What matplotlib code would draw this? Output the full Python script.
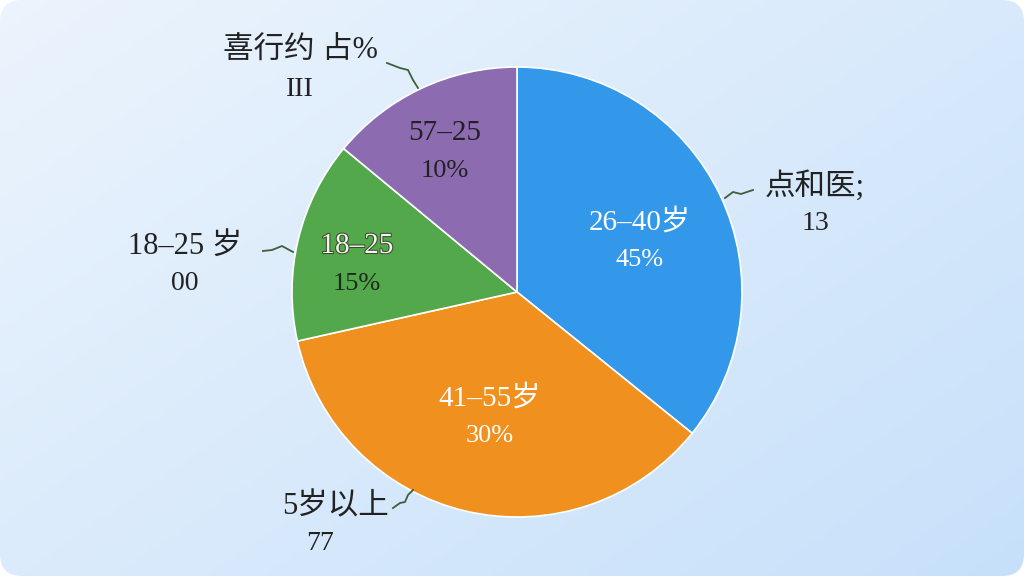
import numpy as np
import matplotlib
matplotlib.use('Agg')
import matplotlib.pyplot as plt
from matplotlib.patches import FancyBboxPatch
import matplotlib.patheffects as pe

plt.rcParams['font.family'] = ['Liberation Serif', 'Noto Sans CJK SC', 'DejaVu Sans']

#%% dati
categorie = ['26–40岁', '41–55岁', '18–25', '57–25']
quote = [35.8, 35.7, 14.5, 14.0]          # ampiezza reale degli spicchi
etichette_pct = ['45%', '30%', '15%', '10%']
colori = ['#3498ea', '#f0901f', '#52a84b', '#8d6bb0']
esterne = ['点和医;', '5岁以上', '18–25 岁', '喜行约 占%']
esterne_sub = ['13', '77', '00', 'III']

#%%
W, H = 1024, 576
fig = plt.figure(figsize=(W / 100, H / 100), dpi=100)
fig.patch.set_facecolor('white')
ax = fig.add_axes([0, 0, 1, 1])

# sfondo a gradiente con angoli arrotondati (chiaro in alto a sinistra)
xx, yy = np.meshgrid(np.linspace(0, 1, 200), np.linspace(0, 1, 120))
t = xx * 0.55 + yy * 0.45
c0 = np.array([0.925, 0.957, 0.992])
c1 = np.array([0.78, 0.88, 0.98])
grad = c0[None, None, :] * (1 - t[..., None]) + c1[None, None, :] * t[..., None]
im = ax.imshow(grad, extent=[0, W, 0, H], origin='upper', zorder=0, aspect='auto')
card = FancyBboxPatch((0, 0), W, H, boxstyle='round,pad=0,rounding_size=22',
                      transform=ax.transData, facecolor='none', edgecolor='none')
ax.add_patch(card)
im.set_clip_path(card)

cx, cy, r = 517, H - 292, 225
wedges, _ = ax.pie(quote, colors=colori, startangle=90, counterclock=False,
                   center=(cx, cy), radius=r, frame=True,
                   wedgeprops=dict(edgecolor='white', linewidth=1.2))
ax.set_xlim(0, W)
ax.set_ylim(0, H)
ax.axis('off')

def py(y):
    return H - y

# etichette interne
pos_int = [(640, 222), (490, 398), (357, 246), (445, 133)]
col_nome = ['white', 'white', '#f4f4ec', '#222222']
col_pct = ['white', 'white', '#1e2a1e', '#222222']
for i in range(4):
    x, y = pos_int[i]
    t1 = ax.text(x, py(y), categorie[i], ha='center', va='center',
                 fontsize=21, color=col_nome[i], zorder=5)
    if i == 2:
        t1.set_path_effects([pe.withStroke(linewidth=1.5, foreground='#3a4a30')])
    ax.text(x, py(y + 38), etichette_pct[i], ha='center', va='center',
            fontsize=19, color=col_pct[i], zorder=5)

# etichette esterne
pos_ext = [(815, 186), (335, 507), (185, 246), (300, 50)]
pos_sub = [(815, 224), (320, 543), (185, 284), (300, 90)]
for i in range(4):
    x, y = pos_ext[i]
    ax.text(x, py(y), esterne[i], ha='center', va='center', fontsize=22,
            color='#222222', zorder=5)
    x, y = pos_sub[i]
    ax.text(x, py(y), esterne_sub[i], ha='center', va='center', fontsize=20,
            color='#222222', zorder=5)

# linee di richiamo ondulate
linee = [
    [(725, 198), (733, 192), (741, 194), (753, 190)],
    [(393, 508), (400, 503), (405, 502), (408, 495), (413, 490)],
    [(263, 251), (272, 250), (282, 246), (293, 252)],
    [(387, 63), (400, 68), (408, 70), (413, 80), (418, 88)],
]
for l in linee:
    xs = [p[0] for p in l]
    ys = [py(p[1]) for p in l]
    ax.plot(xs, ys, color='#3d5e3a', linewidth=1.3, zorder=4)

fig.savefig('out.png', dpi=100)
